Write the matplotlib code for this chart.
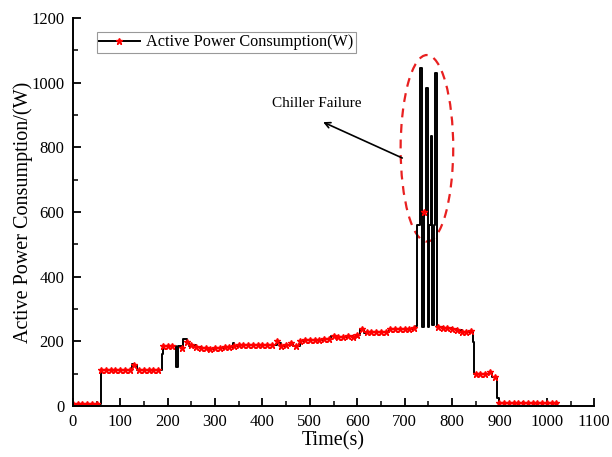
import matplotlib
matplotlib.use("Agg")
from matplotlib import pyplot as plt
from matplotlib.patches import Ellipse
import numpy as np

plt.rcParams['font.family'] = ['Liberation Serif', 'DejaVu Serif']

time_s = [0, 10, 20, 30, 40, 50, 60, 70, 80, 90, 100, 110, 120, 125, 130, 135,
          140, 150, 160, 170, 180, 188, 190, 200, 210, 217, 222, 230, 233, 240,
          245, 250, 260, 270, 280, 290, 300, 310, 320, 330, 337, 340, 350, 360,
          370, 380, 390, 400, 410, 420, 430, 435, 440, 450, 460, 465, 470, 480,
          490, 500, 510, 520, 530, 540, 545, 550, 560, 570, 580, 590, 600, 605,
          610, 615, 620, 630, 640, 650, 660, 668, 670, 680, 690, 700, 710, 720,
          725, 727, 733, 736, 740, 746, 749, 752, 756, 758, 761, 765, 768, 770,
          780, 790, 800, 810, 820, 830, 840, 844, 846, 850, 860, 870, 878, 880,
          885, 890, 894, 900, 910, 920, 930, 940, 950, 960, 970, 980, 990, 1000,
          1010, 1020]
power_w = [5, 5, 5, 5, 5, 5, 112, 112, 112, 112, 112, 112, 112, 129, 128, 112,
           112, 112, 112, 112, 112, 160, 186, 186, 186, 122, 186, 180, 206, 198,
           186, 190, 184, 180, 178, 176, 180, 178, 182, 184, 196, 186, 190, 190,
           189, 190, 188, 188, 190, 188, 200, 196, 186, 188, 194, 186, 186, 202,
           204, 204, 205, 203, 208, 206, 217, 215, 214, 212, 216, 214, 220, 237,
           238, 227, 228, 228, 228, 228, 228, 237, 238, 238, 238, 238, 238, 240,
           246, 560, 1045, 245, 600, 985, 245, 560, 835, 250, 560, 1030, 245, 245,
           240, 240, 238, 236, 230, 230, 232, 199, 99, 99, 99, 99, 106, 106,
           89, 90, 24, 10, 8, 8, 8, 8, 8, 8, 8, 8, 8, 8,
           8, 8]

x_ticks = [0, 100, 200, 300, 400, 500, 600, 700, 800, 900, 1000, 1100]
y_ticks = [0, 200, 400, 600, 800, 1000, 1200]

fig = plt.figure(figsize=(6.12, 4.57), dpi=100)
ax = fig.add_axes([0.119, 0.1116, 0.852, 0.849])

# markers roughly every 10 s
marks = [t % 10 == 0 for t in time_s]
ax.plot(time_s, power_w, color='black', lw=1.4, drawstyle='steps-post',
        marker='*', markersize=5, markerfacecolor='red', markeredgecolor='red',
        markevery=marks, label='Active Power Consumption(W)')

# highlight the chiller failure spikes
ell = Ellipse((747, 797), 111, 577, fill=False, edgecolor='#e82020',
              linestyle=(0, (4, 3)), lw=1.6)
ax.add_patch(ell)
ax.annotate('', xy=(528, 878), xytext=(695, 767),
            arrowprops=dict(arrowstyle='->', color='black', lw=1.2,
                            shrinkA=0, shrinkB=0))
ax.text(515, 937, 'Chiller Failure', ha='center', va='center', fontsize=11)

ax.set_xlim(0, 1100)
ax.set_ylim(0, 1200)
ax.set_xticks(x_ticks)
ax.set_yticks(y_ticks)
ax.set_xticks(np.arange(50, 1100, 100), minor=True)
ax.set_yticks(np.arange(100, 1200, 200), minor=True)
ax.tick_params(which='major', direction='in', length=6, width=1.3, labelsize=12)
ax.tick_params(axis='x', which='major', pad=6)
ax.tick_params(axis='y', which='major', pad=6)
ax.tick_params(which='minor', direction='in', length=3.5, width=1.1)
ax.spines['top'].set_visible(False)
ax.spines['right'].set_visible(False)
ax.spines['left'].set_linewidth(1.4)
ax.spines['bottom'].set_linewidth(1.4)

ax.set_xlabel('Time(s)', fontsize=14.5, labelpad=1)
ax.set_ylabel('Active Power Consumption/(W)', fontsize=14.5, labelpad=-1)

leg = ax.legend(loc='upper left', bbox_to_anchor=(0.03, 0.985), fontsize=11.7,
                fancybox=False, edgecolor='gray', handlelength=2.5,
                borderpad=0.15, handletextpad=0.4, markerscale=1)
leg.get_frame().set_linewidth(0.8)

fig.savefig('out.png', dpi=100)
